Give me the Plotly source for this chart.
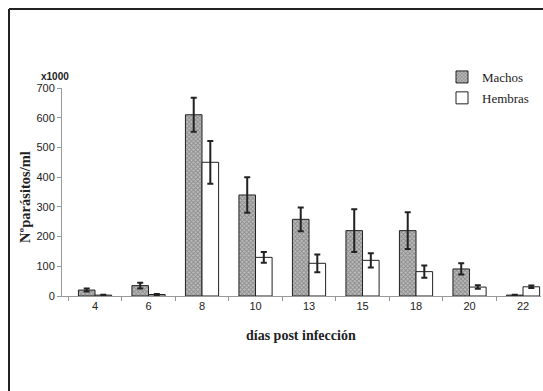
import plotly.graph_objects as go

days = ["4", "6", "8", "10", "13", "15", "18", "20", "22"]
machos = [20, 35, 610, 340, 258, 220, 220, 91, 3]
machos_err = [5, 10, 57, 60, 40, 72, 62, 19, 1]
hembras = [3, 5, 450, 130, 110, 120, 82, 30, 31]
hembras_err = [1, 2, 72, 18, 30, 24, 21, 6, 4]
y_ticks = [0, 100, 200, 300, 400, 500, 600, 700]

# plot area in pixels: x 62..541, y 88..296
PW, PH = 479.0, 208.0
def px(x):
    return (x - 62) / PW
def py(y):
    return (296 - y) / PH

fig = go.Figure()
fig.add_trace(go.Bar(
    x=days, y=machos, name="Machos", legendgroup="m",
    marker=dict(color="#b0b0b0", line=dict(color="#222222", width=1),
                pattern=dict(shape="x", fgcolor="#555555", bgcolor="#bdbdbd", size=3, solidity=0.5)),
    error_y=dict(type="data", array=machos_err, color="#222222", thickness=2, width=3),
))
fig.add_trace(go.Bar(
    x=days, y=hembras, name="Hembras", legendgroup="h",
    marker=dict(color="white", line=dict(color="#222222", width=1)),
    error_y=dict(type="data", array=hembras_err, color="#222222", thickness=2, width=3),
))

fig.update_layout(
    width=543, height=391,
    margin=dict(l=62, r=2, t=88, b=95, autoexpand=False),
    paper_bgcolor="white", plot_bgcolor="white",
    barmode="group", bargap=0.38, bargroupgap=0,
    showlegend=True,
    legend=dict(x=px(442), y=py(62), xanchor="left", yanchor="top",
                font=dict(family="Liberation Serif", size=13, color="#222222"),
                bgcolor="rgba(0,0,0,0)", itemwidth=30, tracegroupgap=1),
    font=dict(family="Liberation Sans", size=10, color="#222222"),
    xaxis=dict(type="category", range=[-0.617, 8.336], showline=True, linecolor="#999999", linewidth=1,
               ticks="outside", tickson="boundaries", ticklen=4, tickcolor="#999999",
               tickfont=dict(family="Liberation Sans", size=11, color="#222222")),
    yaxis=dict(range=[0, 700], tickvals=y_ticks, showline=True, linecolor="#999999", linewidth=1,
               ticks="outside", ticklen=4, tickcolor="#999999", showgrid=False, zeroline=False,
               tickfont=dict(family="Liberation Sans", size=11, color="#222222")),
    annotations=[
        dict(text="<b>x1000</b>", xref="paper", yref="paper", x=px(55), y=py(76),
             xanchor="center", yanchor="middle", showarrow=False,
             font=dict(family="Liberation Sans", size=10, color="#222222")),
        dict(text="<b>Nºparásitos/ml</b>", xref="paper", yref="paper", x=px(25), y=py(197),
             xanchor="center", yanchor="middle", showarrow=False, textangle=-90,
             font=dict(family="Liberation Serif", size=14.5, color="#222222")),
        dict(text="<b>días post infección</b>", xref="paper", yref="paper", x=px(301), y=py(335),
             xanchor="center", yanchor="middle", showarrow=False,
             font=dict(family="Liberation Serif", size=14, color="#222222")),
    ],
    shapes=[
        dict(type="line", xref="paper", yref="paper", x0=px(9), x1=px(545),
             y0=py(9), y1=py(9), line=dict(color="#222222", width=2)),
        dict(type="line", xref="paper", yref="paper", x0=px(9), x1=px(9),
             y0=py(9), y1=py(395), line=dict(color="#222222", width=2)),
    ],
)

fig.write_html("out.html")
